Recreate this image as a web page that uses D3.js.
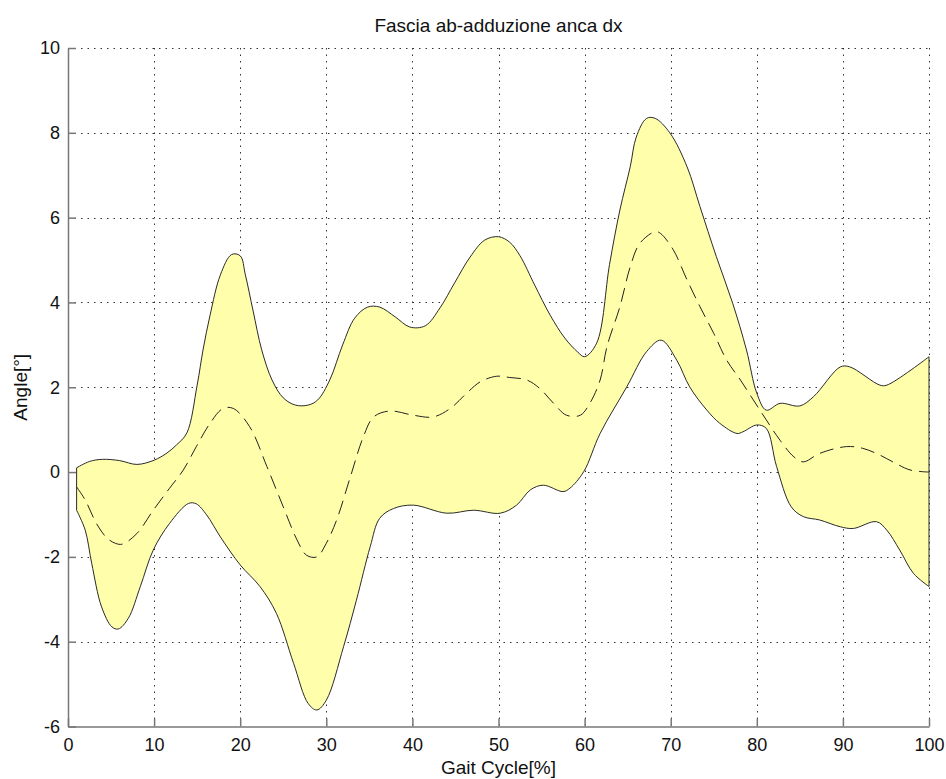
<!DOCTYPE html>
<html>
<head>
<meta charset="utf-8">
<script src="https://cdn.jsdelivr.net/npm/d3@7"></script>
<style>
body { margin: 0; background: #fff; }
svg { display: block; font-family: "Liberation Sans", Arial, sans-serif; }
</style>
</head>
<body>
<svg id="chart" width="946" height="779"></svg>
<script>
// gait cycle [%] and angle [deg]
const upperBand = [[1,0.1],[2.5,0.25],[4,0.3],[6,0.27],[8,0.18],[10,0.28],[11.5,0.45],[12.6,0.64],[13.8,0.92],[15,2.05],[15.7,2.9],[16.5,3.7],[17.7,4.65],[19,5.13],[20,5.1],[20.6,4.65],[21.5,3.8],[22.5,2.88],[23.7,2.17],[25,1.75],[26.4,1.58],[27.9,1.58],[29,1.7],[30.4,2.17],[31.9,3.0],[33.3,3.63],[34.8,3.89],[36.2,3.89],[38,3.66],[39.7,3.42],[41.5,3.45],[43.2,3.87],[44.9,4.46],[46.7,5.07],[48.4,5.47],[50,5.55],[51.3,5.42],[52.5,5.1],[54.2,4.41],[56,3.7],[57.7,3.16],[59.2,2.83],[60,2.72],[61.4,3.04],[62.9,4.9],[64.1,6.18],[65.3,7.2],[66,7.9],[67.2,8.34],[68.2,8.34],[69.9,8.0],[71.9,7.2],[73.4,6.26],[75.3,5.08],[77.2,3.98],[78.8,2.88],[80,1.86],[81.1,1.46],[82.7,1.62],[85,1.56],[86.6,1.78],[89.7,2.48],[90.8,2.48],[94.3,2.05],[95.1,2.05],[100,2.72]]
const lowerBand = [[1,-0.9],[2,-1.37],[2.75,-2.15],[3.9,-3.18],[5.1,-3.65],[5.85,-3.7],[7,-3.45],[8.4,-2.7],[9.9,-1.84],[11.8,-1.21],[14,-0.74],[14.9,-0.75],[16.1,-1.01],[17.7,-1.53],[20,-2.19],[22.3,-2.7],[24.2,-3.33],[26.2,-4.51],[27.9,-5.46],[28.9,-5.61],[30,-5.38],[32,-4.12],[33.5,-3.02],[35.1,-1.76],[36.2,-1.09],[37.8,-0.86],[40.1,-0.78],[44,-0.97],[47.1,-0.9],[50.2,-0.97],[52.1,-0.78],[53.7,-0.42],[55.2,-0.31],[57.5,-0.46],[58.3,-0.38],[59.9,0.01],[61.8,0.91],[64.9,2.01],[67.2,2.84],[68.9,3.11],[70.7,2.64],[72.2,2.01],[74.2,1.46],[75.7,1.15],[77.7,0.91],[78.4,0.95],[80,1.11],[81.1,1.03],[82.3,0.13],[84,-0.82],[85.4,-1.05],[87.3,-1.13],[89.7,-1.29],[91.2,-1.33],[93.9,-1.17],[95.1,-1.37],[96.6,-1.84],[98.2,-2.39],[100,-2.7]]
const meanCurve = [[1,-0.35],[2,-0.66],[3.3,-1.21],[4.5,-1.55],[5.5,-1.68],[6.3,-1.7],[8,-1.45],[9.9,-0.9],[11.8,-0.38],[13.4,0.05],[14.9,0.6],[16.5,1.15],[18,1.5],[19.2,1.5],[21.1,1.07],[23.1,0.13],[25,-0.82],[26.6,-1.6],[27.7,-1.96],[28.9,-2.0],[30,-1.68],[31.2,-1.13],[32.8,-0.11],[34.3,0.83],[35.5,1.3],[37.4,1.44],[40.1,1.34],[42.4,1.3],[44.4,1.5],[46.3,1.86],[47.9,2.13],[49.8,2.26],[51.3,2.23],[53.3,2.17],[54.8,1.97],[56.4,1.62],[57.9,1.34],[59.5,1.34],[60.6,1.62],[61.8,2.17],[62.6,2.96],[64.1,3.9],[65.3,4.84],[66.4,5.39],[68.2,5.67],[68.8,5.63],[70.3,5.24],[71.9,4.53],[73.4,3.9],[75,3.27],[76.5,2.64],[78.1,2.17],[79.6,1.7],[81.1,1.23],[82.7,0.75],[84.3,0.36],[85.4,0.24],[87.3,0.44],[90.4,0.6],[92.3,0.56],[94.3,0.4],[95.8,0.24],[97.8,0.05],[100,0.0]]
const xTicks = [0,10,20,30,40,50,60,70,80,90,100]
const yTicks = [-6,-4,-2,0,2,4,6,8,10]

const svg = d3.select('#chart')
const m = { top: 48, left: 68, right: 17, bottom: 52.5 }
const w = 946, h = 779
const x = d3.scaleLinear().domain([0, 100]).range([m.left, w - m.right])
const y = d3.scaleLinear().domain([-6, 10]).range([h - m.bottom, m.top])

// dotted grid
const grid = svg.append('g').attr('stroke', '#333').attr('stroke-width', 1).attr('stroke-dasharray', '1.5,5')
grid.selectAll('.gx').data(xTicks.slice(1)).enter().append('line')
  .attr('x1', d => Math.round(x(d)) + .5).attr('x2', d => Math.round(x(d)) + .5).attr('y1', y(10)).attr('y2', y(-6))
grid.selectAll('.gy').data(yTicks.slice(1)).enter().append('line')
  .attr('y1', d => Math.round(y(d)) + .5).attr('y2', d => Math.round(y(d)) + .5).attr('x1', x(0)).attr('x2', x(100))

// band: upper forward, lower back, closed
const line = d3.line().x(d => x(d[0])).y(d => y(d[1])).curve(d3.curveCatmullRom.alpha(.5))
const bandPath = line(upperBand) + 'L' + line(lowerBand.slice().reverse()).slice(1) + 'Z'
svg.append('path').attr('d', bandPath).attr('fill', '#ffffab').attr('stroke', '#2a2a2a').attr('stroke-width', 1)

svg.append('path').attr('d', line(meanCurve)).attr('fill', 'none').attr('stroke', '#222')
  .attr('stroke-width', 1).attr('stroke-dasharray', '14,7')

// axes (plain hyphen minus like the original)
const fmt = d => String(d)
const gx = svg.append('g').attr('transform', `translate(0,${y(-6)})`)
  .call(d3.axisBottom(x).tickValues(xTicks).tickFormat(fmt).tickSizeInner(-8).tickSizeOuter(0).tickPadding(12))
const gy = svg.append('g').attr('transform', `translate(${x(0)},0)`)
  .call(d3.axisLeft(y).tickValues(yTicks).tickFormat(fmt).tickSizeInner(-8).tickSizeOuter(0).tickPadding(8))
;[gx, gy].forEach(g => {
  g.select('.domain').attr('stroke', '#777').attr('stroke-width', 1.5)
  g.selectAll('.tick line').attr('stroke', '#777').attr('stroke-width', 1.5)
  g.selectAll('.tick text').attr('fill', '#111').style('font-size', '18px').style('font-family', '"Liberation Sans", Arial, sans-serif')
})
gy.selectAll('.tick text').attr('x', -8)

svg.append('text').attr('x', (x(0) + x(100)) / 2).attr('y', 32).attr('text-anchor', 'middle')
  .style('font-size', '19px').attr('fill', '#111').text('Fascia ab-adduzione anca dx')
svg.append('text').attr('x', (x(0) + x(100)) / 2).attr('y', 774).attr('text-anchor', 'middle')
  .style('font-size', '19px').attr('fill', '#111').text('Gait Cycle[%]')
svg.append('text').attr('transform', `translate(27,${(y(10) + y(-6)) / 2}) rotate(-90)`).attr('text-anchor', 'middle')
  .style('font-size', '19px').attr('fill', '#111').text('Angle[°]')
</script>
</body>
</html>
